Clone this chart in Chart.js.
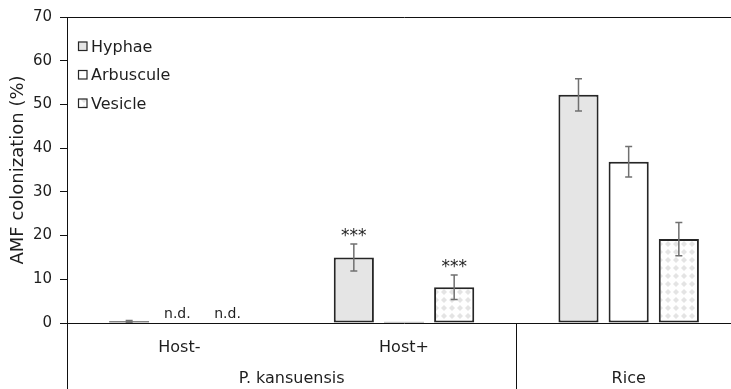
<!DOCTYPE html>
<html>
<head>
<meta charset="utf-8">
<title>AMF colonization</title>
<script src="https://cdn.jsdelivr.net/npm/chart.js"></script>
<style>
  html, body { margin: 0; padding: 0; background: #fff; overflow: hidden; }
  #wrap { width: 745px; height: 389px; }
</style>
</head>
<body>
<div id="wrap"><canvas id="amfChart" width="745" height="389"></canvas></div>
<script>
// data
const categories = ['Host-', 'Host+', 'Rice'];
const tickLabels = ['Host-', 'Host+', ''];
const groups = ['P. kansuensis', 'Rice'];
const groupSpans = [[0, 1], [2, 2]];

const hyphae = [0.4, 15.0, 52.2];
const hyphaeErr = [0.2, 3.1, 3.7];
const arbuscule = [null, 0.3, 36.9];
const arbusculeErr = [null, 0, 3.5];
const vesicle = [null, 8.2, 19.2];
const vesicleErr = [null, 2.8, 3.8];

// text above bars: significance / not detected
const hyphaeNotes = ['', '***', ''];
const arbusculeNotes = ['n.d.', '', ''];
const vesicleNotes = ['n.d.', '***', ''];

const yTicks = [0, 10, 20, 30, 40, 50, 60, 70];

const FONT = '"DejaVu Sans", sans-serif';
const TEXT = '#1e1e1e';

// dotted fill for vesicle
function makePattern() {
  const c = document.createElement('canvas');
  c.width = 8; c.height = 8;
  const g = c.getContext('2d');
  g.fillStyle = '#fff';
  g.fillRect(0, 0, 8, 8);
  g.fillStyle = '#e4e4e4';
  g.beginPath();
  g.moveTo(4, 1); g.lineTo(7, 4); g.lineTo(4, 7); g.lineTo(1, 4);
  g.closePath();
  g.fill();
  return g.createPattern(c, 'repeat');
}
const vesiclePattern = makePattern();

// error bars + notes
const errorBars = {
  id: 'errorBars',
  afterDatasetsDraw(chart) {
    const ctx = chart.ctx;
    const y = chart.scales.y;
    chart.data.datasets.forEach((ds, di) => {
      const meta = chart.getDatasetMeta(di);
      meta.data.forEach((bar, i) => {
        const v = ds.data[i];
        const e = ds.errors[i];
        let top = y.getPixelForValue(0);
        if (v != null && e) {
          top = y.getPixelForValue(v + e);
          const bot = y.getPixelForValue(v - e);
          ctx.save();
          ctx.strokeStyle = '#707070';
          ctx.lineWidth = 1.5;
          ctx.beginPath();
          ctx.moveTo(bar.x, top); ctx.lineTo(bar.x, bot);
          ctx.moveTo(bar.x - 3.5, top); ctx.lineTo(bar.x + 3.5, top);
          ctx.moveTo(bar.x - 3.5, bot); ctx.lineTo(bar.x + 3.5, bot);
          ctx.stroke();
          ctx.restore();
        }
        const note = ds.notes[i];
        if (note) {
          ctx.save();
          ctx.fillStyle = TEXT;
          ctx.textAlign = 'center';
          ctx.textBaseline = 'alphabetic';
          if (note === 'n.d.') {
            ctx.font = '14px ' + FONT;
            ctx.fillText(note, bar.x - 2, y.getPixelForValue(0) - 5);
          } else {
            ctx.font = '17px ' + FONT;
            ctx.fillText(note, bar.x, top - 3);
          }
          ctx.restore();
        }
      });
    });
  }
};

// category labels, group labels, divider lines, legend
const axisExtras = {
  id: 'axisExtras',
  afterDraw(chart) {
    const ctx = chart.ctx;
    const x = chart.scales.x;
    const area = chart.chartArea;
    const H = chart.height;
    ctx.save();
    ctx.strokeStyle = '#111';
    ctx.lineWidth = 1;
    ctx.beginPath();
    ctx.moveTo(area.left + 0.5, area.bottom);
    ctx.lineTo(area.left + 0.5, H);
    const div = Math.round((x.getPixelForValue(1) + x.getPixelForValue(2)) / 2) + 0.5;
    ctx.moveTo(div, area.bottom);
    ctx.lineTo(div, H);
    ctx.stroke();

    ctx.fillStyle = TEXT;
    ctx.textAlign = 'center';
    ctx.textBaseline = 'alphabetic';
    ctx.font = '16px ' + FONT;
    tickLabels.forEach((t, i) => {
      if (t) ctx.fillText(t, x.getPixelForValue(i), area.bottom + 29);
    });
    groups.forEach((g, i) => {
      const cx = (x.getPixelForValue(groupSpans[i][0]) + x.getPixelForValue(groupSpans[i][1])) / 2;
      ctx.fillText(g, cx, area.bottom + 60);
    });

    // legend
    ctx.textAlign = 'left';
    ctx.font = '16px ' + FONT;
    chart.data.datasets.forEach((ds, i) => {
      const cy = area.top + 29 + i * 28.5;
      ctx.fillStyle = ds.backgroundColor;
      ctx.fillRect(78, cy - 4.5, 9, 9);
      ctx.strokeStyle = '#262626';
      ctx.lineWidth = 1.2;
      ctx.strokeRect(78.5, cy - 4, 8.5, 8.5);
      ctx.fillStyle = TEXT;
      ctx.fillText(ds.label, 91, cy + 5.5);
    });
    ctx.restore();
  }
};

const barStyle = { borderColor: '#262626', borderWidth: 2, borderSkipped: false };

new Chart(document.getElementById('amfChart'), {
  type: 'bar',
  data: {
    labels: categories,
    datasets: [
      Object.assign({ label: 'Hyphae', data: hyphae, errors: hyphaeErr, notes: hyphaeNotes, backgroundColor: '#e5e5e5' }, barStyle),
      Object.assign({ label: 'Arbuscule', data: arbuscule, errors: arbusculeErr, notes: arbusculeNotes, backgroundColor: '#ffffff' }, barStyle),
      Object.assign({ label: 'Vesicle', data: vesicle, errors: vesicleErr, notes: vesicleNotes, backgroundColor: vesiclePattern }, barStyle)
    ]
  },
  options: {
    responsive: false,
    animation: false,
    devicePixelRatio: 1,
    categoryPercentage: 0.67,
    barPercentage: 0.8,
    layout: { padding: { top: 13, right: 4, left: 0, bottom: 0 } },
    plugins: { legend: { display: false }, tooltip: { enabled: false } },
    scales: {
      x: {
        grid: { display: false },
        border: { display: true, color: '#111', width: 1 },
        ticks: { display: false },
        afterFit(scale) { scale.height = 66; }
      },
      y: {
        min: 0,
        max: 70,
        afterBuildTicks(scale) { scale.ticks = yTicks.map(v => ({ value: v })); },
        grid: {
          color: c => (c.tick && c.tick.value === 70 ? '#111' : 'rgba(0,0,0,0)'),
          tickColor: '#111',
          tickLength: 7,
          lineWidth: 1
        },
        border: { display: true, color: '#111', width: 1 },
        ticks: { font: { family: FONT, size: 15 }, color: TEXT, padding: 8 },
        title: {
          display: true,
          text: 'AMF colonization (%)',
          font: { family: FONT, size: 18 },
          color: TEXT,
          padding: { top: 8, bottom: 0 }
        },
        afterFit(scale) { scale.width = 67; }
      }
    }
  },
  plugins: [errorBars, axisExtras]
});
</script>
</body>
</html>
